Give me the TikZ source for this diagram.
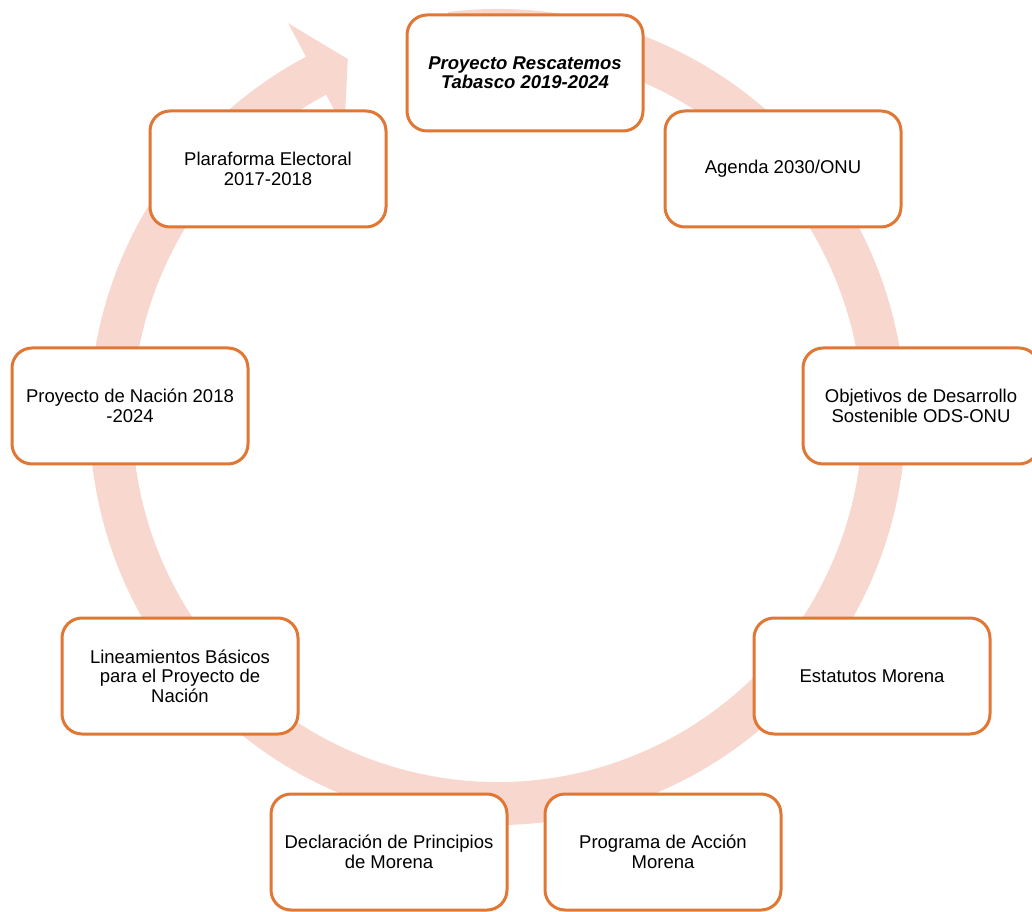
\documentclass[tikz,border=0pt]{standalone}
\usepackage{fontspec}
\setmainfont{Liberation Sans}
\definecolor{brd}{RGB}{224,119,52}
\definecolor{ringc}{RGB}{248,216,206}

\begin{document}
\begin{tikzpicture}[
  x=1pt, y=1pt,
  stg/.style={draw=brd, line width=3pt, fill=white, rounded corners=20pt,
    minimum width=236pt, minimum height=116pt, align=center,
    font=\fontsize{18.5}{19.5}\selectfont},
  ring/.style={fill=ringc}
]
\useasboundingbox (0,0) rectangle (1032,911);
% circular arrow behind the boxes
\begin{scope}[shift={(497.5,494)}]
\path [ring] (97:408) arc [start angle=97, end angle=-242, radius=408]
  -- (118:446) -- (112.7:388) -- (118:326) -- (118:365)
  arc [start angle=-242, end angle=97, radius=365] -- cycle;
\end{scope}
\node [stg, font=\fontsize{18.5}{19}\selectfont\bfseries\itshape] (proy) at (525,838)
  {Proyecto Rescatemos\\Tabasco 2019-2024};
\node [stg] (agenda) at (783,742) {Agenda 2030/ONU};
\node [stg] (ods) at (921,505) {Objetivos de Desarrollo\\Sostenible ODS-ONU};
\node [stg] (estat) at (872,235) {Estatutos Morena};
\node [stg] (progr) at (663,59) {Programa de Acción\\Morena};
\node [stg] (decl) at (389,59) {Declaración de Principios\\de Morena};
\node [stg] (linea) at (180,235) {Lineamientos Básicos\\para el Proyecto de\\Nación};
\node [stg] (nacion) at (130,505) {Proyecto de Nación 2018\\-2024};
\node [stg] (plat) at (268,742) {Plaraforma Electoral\\2017-2018};
\end{tikzpicture}
\end{document}
